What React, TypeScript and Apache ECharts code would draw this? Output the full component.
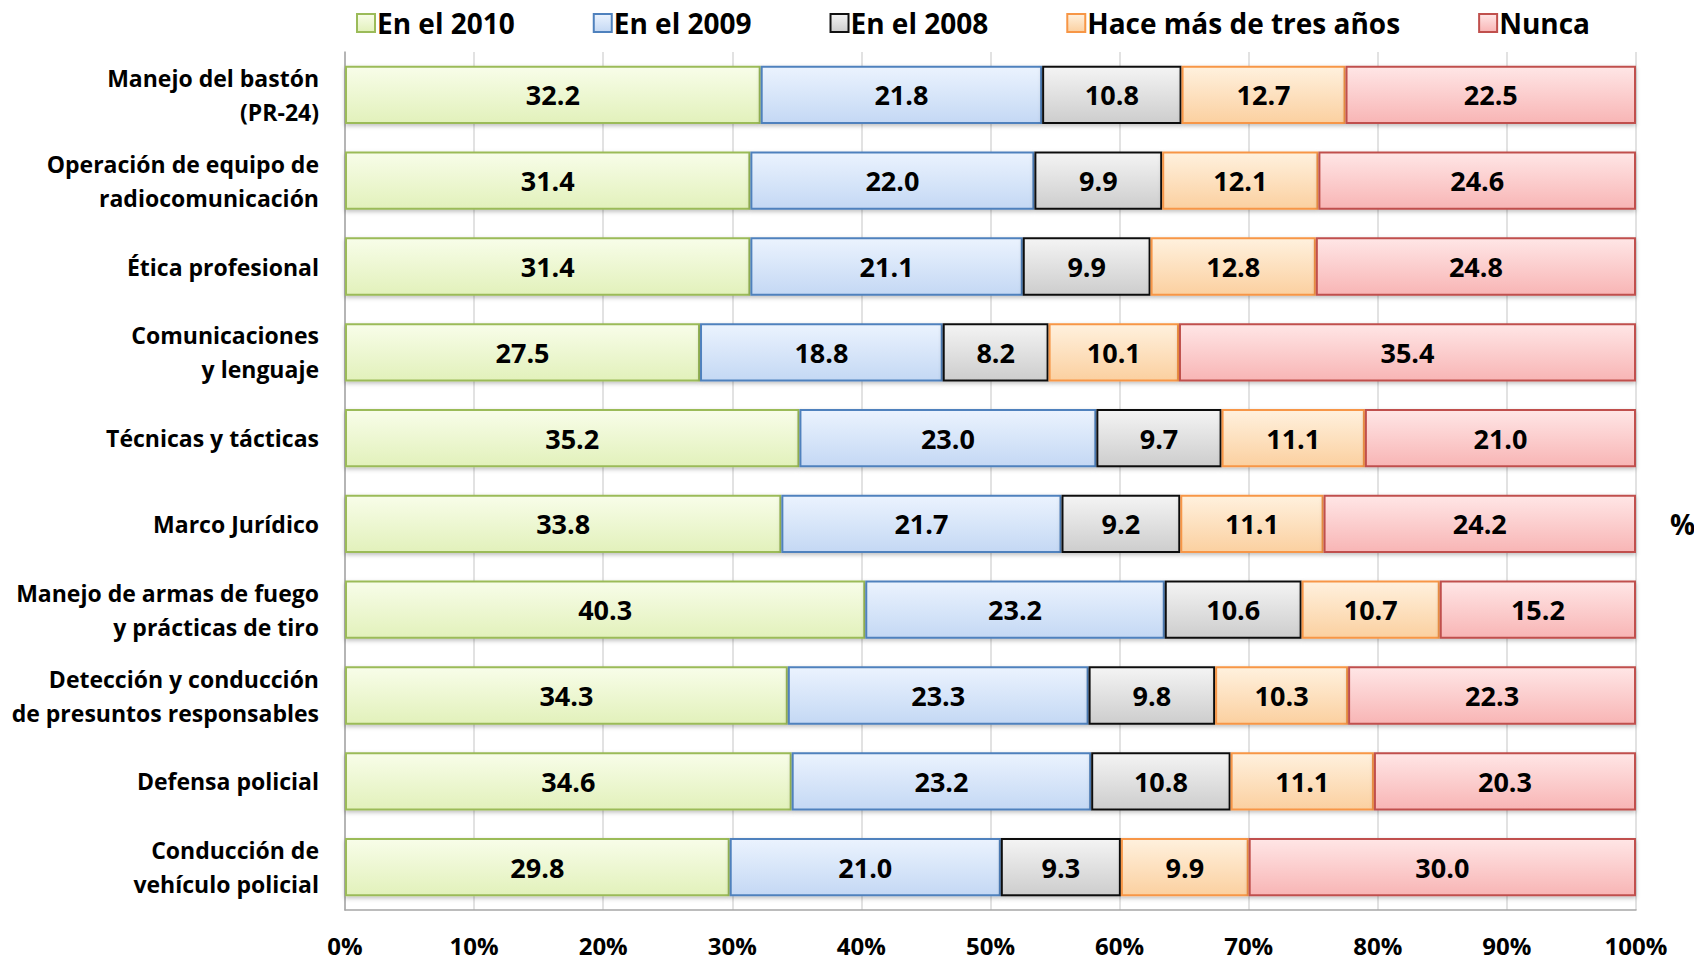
import React, { useEffect, useRef } from "react";
import * as echarts from "echarts";

const categories = [
  "Manejo del bastón\n(PR-24)",
  "Operación de equipo de\nradiocomunicación",
  "Ética profesional",
  "Comunicaciones\ny lenguaje",
  "Técnicas y tácticas",
  "Marco Jurídico",
  "Manejo de armas de fuego\ny prácticas de tiro",
  "Detección y conducción\nde presuntos responsables",
  "Defensa policial",
  "Conducción de\nvehículo policial",
];

const en2010 = [32.2, 31.4, 31.4, 27.5, 35.2, 33.8, 40.3, 34.3, 34.6, 29.8];
const en2009 = [21.8, 22.0, 21.1, 18.8, 23.0, 21.7, 23.2, 23.3, 23.2, 21.0];
const en2008 = [10.8, 9.9, 9.9, 8.2, 9.7, 9.2, 10.6, 9.8, 10.8, 9.3];
const haceMas = [12.7, 12.1, 12.8, 10.1, 11.1, 11.1, 10.7, 10.3, 11.1, 9.9];
const nunca = [22.5, 24.6, 24.8, 35.4, 21.0, 24.2, 15.2, 22.3, 20.3, 30.0];

const seriesNames = ["En el 2010", "En el 2009", "En el 2008", "Hace más de tres años", "Nunca"];
const seriesData = [en2010, en2009, en2008, haceMas, nunca];
const fills: [string, string][] = [
  ["#f8fde9", "#e2f1bb"],
  ["#ebf3fe", "#c4d8f4"],
  ["#f4f4f4", "#cdcdcd"],
  ["#fff1de", "#fbd0a0"],
  ["#ffe6e6", "#f8b5b5"],
];
const borders = ["#9bbb59", "#4f81bd", "#111111", "#f79646", "#c0504d"];

const FONT = "'Open Sans', sans-serif";

export default function App() {
  const ref = useRef<HTMLDivElement>(null);
  useEffect(() => {
    if (!ref.current) return;
    const chart = echarts.init(ref.current, undefined, { renderer: "svg" });
    chart.setOption({
      animation: false,
      backgroundColor: "#ffffff",
      textStyle: { fontFamily: FONT },
      legend: {
        top: 4,
        left: 351,
        itemGap: 78,
        itemWidth: 18,
        itemHeight: 18,
        icon: "rect",
        textStyle: { fontSize: 28, fontWeight: "bold", color: "#000", fontFamily: FONT, padding: [0, 0, 0, -3] },
        data: seriesNames,
      },
      grid: { left: 345, right: 66, top: 52, bottom: 51, containLabel: false },
      xAxis: {
        type: "value",
        min: 0,
        max: 100,
        interval: 10,
        axisLabel: {
          formatter: "{value}%",
          fontSize: 24,
          lineHeight: 24,
          fontWeight: "bold",
          color: "#000",
          margin: 23,
          fontFamily: FONT,
        },
        axisLine: { show: true, lineStyle: { color: "#a6a6a6", width: 1.5 } },
        axisTick: { show: false },
        splitLine: { show: true, lineStyle: { color: "#d9d9d9", width: 1.5 } },
      },
      yAxis: {
        type: "category",
        data: categories,
        inverse: true,
        axisLabel: {
          fontSize: 23,
          fontWeight: "bold",
          color: "#000",
          margin: 26,
          lineHeight: 34,
          align: "right",
          fontFamily: FONT,
        },
        axisLine: { show: true, lineStyle: { color: "#a6a6a6", width: 1.5 } },
        axisTick: { show: false },
      },
      series: seriesData.map((d, i) => ({
        name: seriesNames[i],
        type: "bar",
        stack: "total",
        barWidth: "68%",
        data: d,
        itemStyle: {
          color: new echarts.graphic.LinearGradient(0, 0, 0, 1, [
            { offset: 0, color: fills[i][0] },
            { offset: 1, color: fills[i][1] },
          ]),
          borderColor: borders[i],
          borderWidth: 2,
          shadowColor: "rgba(0,0,0,0.25)",
          shadowBlur: 4,
          shadowOffsetY: 2,
        },
        label: {
          show: true,
          position: "inside",
          formatter: (p: any) => Number(p.value).toFixed(1),
          fontSize: 27,
          fontWeight: "bold",
          color: "#000",
          fontFamily: FONT,
        },
      })),
      graphic: [
        {
          type: "text",
          left: 1670,
          top: 510,
          style: { text: "%", fontSize: 28, fontWeight: "bold", fill: "#000", fontFamily: FONT },
        },
      ],
    });
    return () => chart.dispose();
  }, []);
  return <div ref={ref} style={{ width: 1702, height: 961, marginLeft: -8, marginTop: -8 }} />;
}
